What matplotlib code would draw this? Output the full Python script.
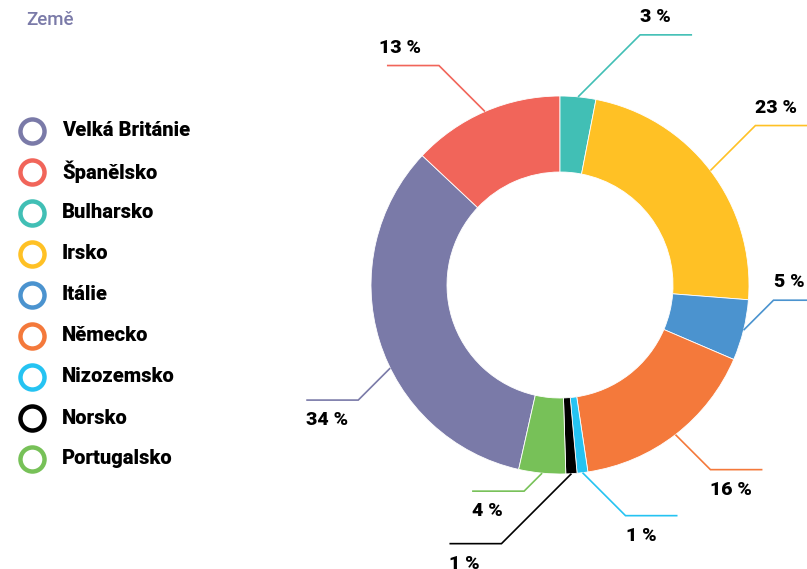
import matplotlib
matplotlib.use('Agg')

import matplotlib.pyplot as plt
import numpy as np

# data
countries = ['Velká Británie', 'Španělsko', 'Bulharsko', 'Irsko', 'Itálie',
             'Německo', 'Nizozemsko', 'Norsko', 'Portugalsko']
shares = [33.5, 13.0, 3.05, 23.2, 5.2, 16.2, 0.92, 0.95, 4.0]
share_labels = ['34 %', '13 %', '3 %', '23 %', '5 %', '16 %', '1 %', '1 %', '4 %']
colors = ['#7a7aa8', '#f1655a', '#41bfb5', '#ffc125', '#4b93cf',
          '#f4793b', '#25c3f2', '#000000', '#77c158']

# layout of the leader lines (pixels): diagonal length, vertical / horizontal direction
diag_len = [32, 46, 62, 45, 30, 35, 43, 70, 18]
dir_y = [-1, 1, 1, 1, 1, -1, -1, -1, -1]
dir_x = [-1, -1, 1, 1, 1, 1, 1, -1, -1]
angle_shift = [9, 0, 0, 0, 0, 0, 0, 0, 0]

W, H = 807, 569
CX, CY, R = 560, 285, 189


def px(x, y):
    return (x - CX) / R, (CY - y) / R


plt.rcParams['font.family'] = ['Roboto', 'DejaVu Sans']

fig = plt.figure(figsize=(W / 100, H / 100), dpi=100)
ax = fig.add_axes([0, 0, 1, 1])

start = 90 + 360 * (shares[0] + shares[1]) / sum(shares)
wedges, _ = ax.pie(shares, colors=colors, startangle=start, counterclock=False,
                   radius=1, wedgeprops=dict(width=1 - 113 / R, edgecolor='white', linewidth=0.6))

for i, w in enumerate(wedges):
    mid = np.deg2rad((w.theta1 + w.theta2) / 2 + angle_shift[i])
    x0, y0 = np.cos(mid), np.sin(mid)
    d = diag_len[i] / R
    x1, y1 = x0 + dir_x[i] * d, y0 + dir_y[i] * d
    x2 = x1 + dir_x[i] * 52 / R
    ax.plot([x0, x1, x2], [y0, y1, y1], color=colors[i], lw=1.2,
            solid_joinstyle='miter', solid_capstyle='butt')
    tx = min(x1, x2)
    if i == 1:
        tx -= 8 / R
    if dir_y[i] > 0:
        ax.text(tx, y1 + 9 / R, share_labels[i], ha='left', va='bottom',
                fontsize=14, fontweight='black', color='black')
    else:
        ax.text(tx, y1 - 11 / R, share_labels[i], ha='left', va='top',
                fontsize=14, fontweight='black', color='black')

# title
tx, ty = px(26, 20)
ax.text(tx, ty, 'Země', ha='left', va='center', fontsize=13.5, color='#7a7aa8',
        fontweight='medium')

# legend
for i, name in enumerate(countries):
    lx, ly = px(32, 131 + 41 * i)
    ax.scatter([lx], [ly], s=300, facecolor='white', edgecolor=colors[i],
               linewidth=3.2, zorder=3)
    tx, ty = px(62, 131 + 41 * i)
    ax.text(tx, ty, name, ha='left', va='center', fontsize=14.5,
            fontweight='black', color='black')

ax.set_xlim(-CX / R, (W - CX) / R)
ax.set_ylim((CY - H) / R, CY / R)
ax.set_aspect('auto')
ax.axis('off')

fig.savefig('out.png', dpi=100)
